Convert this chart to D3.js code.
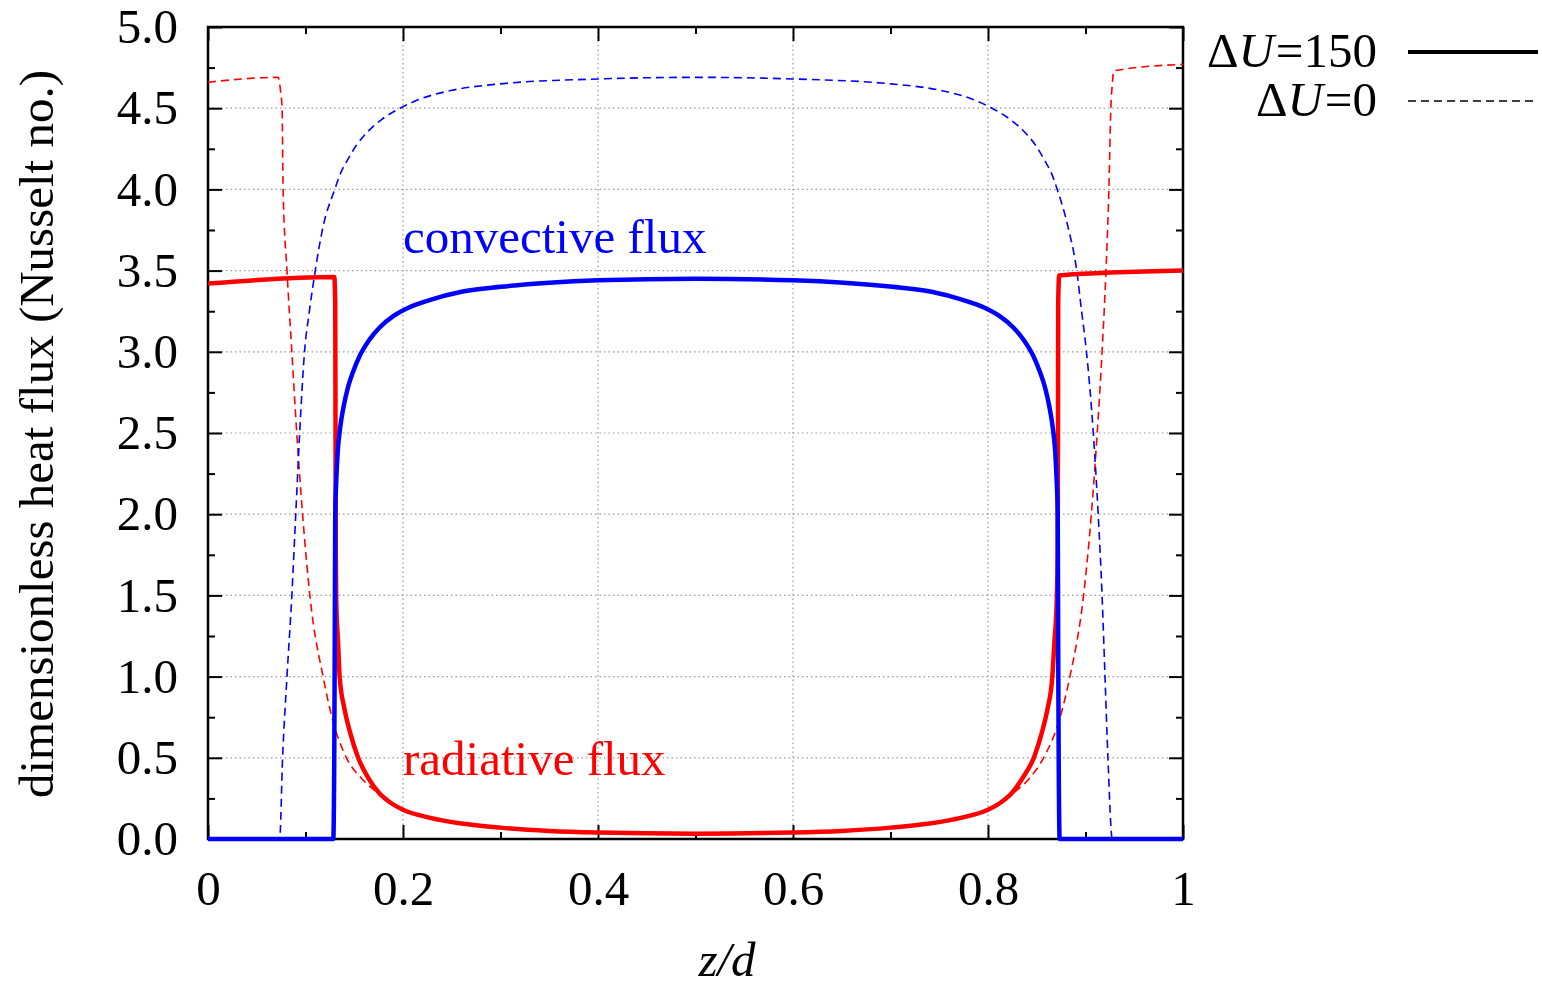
<!DOCTYPE html>
<html>
<head>
<meta charset="utf-8">
<script src="https://cdn.jsdelivr.net/npm/d3@7"></script>
<style>
  body { margin: 0; background: #fff; }
  svg text { font-family: "Liberation Serif", "Times New Roman", serif; }
  .grid line { stroke: #999; stroke-width: 1.2; stroke-dasharray: 1.5,3; }
  .axis path { display: none; }
  .axis line { stroke: #000; stroke-width: 2; }
  .axis text { font-size: 49px; fill: #000; font-family: "Liberation Serif", "Times New Roman", serif; }
</style>
</head>
<body>
<div id="chart"></div>
<script>
// data: [z/d, heat flux]
const convSolid = [[0,0],[0.1285,0],[0.1295,0.5],[0.1300,1.2],[0.1305,2.0],[0.1315,2.2],[0.133,2.38],[0.1355,2.53],[0.139,2.66],[0.1435,2.78],[0.149,2.88],[0.156,2.98],[0.165,3.07],[0.176,3.15],[0.19,3.22],[0.205,3.27],[0.228,3.32],[0.26,3.37],[0.3,3.40],[0.35,3.425],[0.4,3.44],[0.5,3.45],[0.6,3.44],[0.652,3.425],[0.702,3.40],[0.742,3.37],[0.774,3.32],[0.797,3.27],[0.812,3.22],[0.826,3.15],[0.837,3.07],[0.846,2.98],[0.853,2.88],[0.8585,2.78],[0.863,2.66],[0.8665,2.53],[0.869,2.38],[0.8705,2.2],[0.8715,2.0],[0.872,1.2],[0.8725,0.5],[0.8735,0],[1,0]];
const radSolid = [[0,3.42],[0.1295,3.46],[0.1305,3.3],[0.1308,2.5],[0.131,1.8],[0.1315,1.47],[0.1335,1.2],[0.135,1.0],[0.140,0.8],[0.146,0.65],[0.154,0.5],[0.164,0.38],[0.176,0.28],[0.188,0.22],[0.2,0.18],[0.228,0.13],[0.26,0.095],[0.3,0.07],[0.35,0.05],[0.4,0.04],[0.5,0.033],[0.6,0.04],[0.65,0.05],[0.7,0.07],[0.74,0.095],[0.772,0.13],[0.8,0.18],[0.812,0.22],[0.824,0.28],[0.836,0.38],[0.847,0.5],[0.855,0.65],[0.861,0.8],[0.866,1.0],[0.868,1.2],[0.8705,1.47],[0.8715,1.8],[0.8718,2.5],[0.872,3.3],[0.873,3.47],[1,3.50]];
const convDashed = [[0,0],[0.0735,0],[0.0765,0.5],[0.081,1.0],[0.086,1.5],[0.090,2.0],[0.094,2.5],[0.099,3.0],[0.104,3.25],[0.110,3.5],[0.118,3.77],[0.130,4.0],[0.136,4.1],[0.143,4.18],[0.152,4.27],[0.163,4.35],[0.178,4.43],[0.197,4.5],[0.217,4.555],[0.25,4.61],[0.3,4.65],[0.4,4.68],[0.5,4.69],[0.6,4.68],[0.70,4.65],[0.751,4.61],[0.784,4.555],[0.804,4.5],[0.823,4.43],[0.838,4.35],[0.849,4.27],[0.858,4.18],[0.865,4.1],[0.871,4.0],[0.882,3.77],[0.891,3.5],[0.896,3.25],[0.901,3.0],[0.908,2.5],[0.913,2.0],[0.917,1.5],[0.920,1.0],[0.923,0.5],[0.9275,0],[1,0]];
const radDashed = [[0,4.66],[0.072,4.69],[0.0745,4.6],[0.076,4.5],[0.077,4.0],[0.081,3.5],[0.086,3.0],[0.091,2.5],[0.097,2.0],[0.105,1.47],[0.118,1.0],[0.128,0.73],[0.142,0.5],[0.158,0.37],[0.175,0.28],[0.2,0.18],[0.25,0.1],[0.3,0.068],[0.4,0.04],[0.5,0.032],[0.6,0.04],[0.7,0.068],[0.75,0.1],[0.8,0.18],[0.825,0.28],[0.842,0.37],[0.857,0.5],[0.874,0.75],[0.884,1.0],[0.898,1.5],[0.906,2.0],[0.912,2.5],[0.917,3.0],[0.921,3.5],[0.924,4.0],[0.926,4.5],[0.9275,4.65],[0.929,4.73],[1,4.77]];

const xMajor = [0, 0.2, 0.4, 0.6, 0.8, 1];
const xLabels = ["0", "0.2", "0.4", "0.6", "0.8", "1"];
const xMinor = [0.1, 0.3, 0.5, 0.7, 0.9];
const yMajor = [0, 0.5, 1, 1.5, 2, 2.5, 3, 3.5, 4, 4.5, 5];
const yMinor = [0.25, 0.75, 1.25, 1.75, 2.25, 2.75, 3.25, 3.75, 4.25, 4.75];

const margin = { top: 27, left: 208 };
const width = 975, height = 812;

const svg = d3.select("#chart").append("svg")
  .attr("width", 1542).attr("height", 989);
const g = svg.append("g").attr("transform", `translate(${margin.left},${margin.top})`);

const x = d3.scaleLinear().domain([0, 1]).range([0, width]);
const y = d3.scaleLinear().domain([0, 5]).range([height, 0]);

// grid
const grid = g.append("g").attr("class", "grid");
grid.selectAll(".gx").data(xMajor.slice(1, -1)).enter().append("line")
  .attr("x1", d => x(d)).attr("x2", d => x(d)).attr("y1", 0).attr("y2", height);
grid.selectAll(".gy").data(yMajor.slice(1, -1)).enter().append("line")
  .attr("x1", 0).attr("x2", width).attr("y1", d => y(d)).attr("y2", d => y(d));

// axes, ticks pointing inward on all sides
const fmtX = d => xLabels[xMajor.indexOf(d)];
g.append("g").attr("class", "axis").attr("transform", `translate(0,${height})`)
  .call(d3.axisBottom(x).tickValues(xMajor).tickSize(-14).tickPadding(31).tickFormat(fmtX));
g.append("g").attr("class", "axis").attr("transform", `translate(0,${height})`)
  .call(d3.axisBottom(x).tickValues(xMinor).tickSize(-7).tickFormat(""));
g.append("g").attr("class", "axis")
  .call(d3.axisTop(x).tickValues(xMajor).tickSize(-14).tickFormat(""));
g.append("g").attr("class", "axis")
  .call(d3.axisTop(x).tickValues(xMinor).tickSize(-7).tickFormat(""));
g.append("g").attr("class", "axis")
  .call(d3.axisLeft(y).tickValues(yMajor).tickSize(-14).tickPadding(30).tickFormat(d3.format(".1f")));
g.append("g").attr("class", "axis")
  .call(d3.axisLeft(y).tickValues(yMinor).tickSize(-7).tickFormat(""));
g.append("g").attr("class", "axis").attr("transform", `translate(${width},0)`)
  .call(d3.axisRight(y).tickValues(yMajor).tickSize(-14).tickFormat(""));
g.append("g").attr("class", "axis").attr("transform", `translate(${width},0)`)
  .call(d3.axisRight(y).tickValues(yMinor).tickSize(-7).tickFormat(""));

g.append("rect")
  .attr("width", width).attr("height", height)
  .attr("fill", "none").attr("stroke", "#000").attr("stroke-width", 2.5);

// curves
const line = d3.line()
  .x(d => x(d[0]))
  .y(d => y(d[1]))
  .curve(d3.curveMonotoneX);

const series = [
  { data: radDashed, color: "#ff0000", w: 1.6, dash: "8,5" },
  { data: convDashed, color: "#0000ff", w: 1.6, dash: "8,5" },
  { data: radSolid, color: "#ff0000", w: 4.5, dash: null },
  { data: convSolid, color: "#0000ff", w: 4.5, dash: null }
];
g.selectAll(".curve").data(series).enter().append("path")
  .attr("class", "curve")
  .attr("d", d => line(d.data))
  .attr("fill", "none")
  .attr("stroke", d => d.color)
  .attr("stroke-width", d => d.w)
  .attr("stroke-dasharray", d => d.dash)
  .attr("stroke-linejoin", "round");

// curve labels
g.append("text").attr("x", 195).attr("y", 226)
  .attr("fill", "#0000ff").style("font-size", "49px").text("convective flux");
g.append("text").attr("x", 195).attr("y", 748)
  .attr("fill", "#ff0000").style("font-size", "49px").text("radiative flux");

// axis titles
svg.append("text")
  .attr("transform", "translate(53,434) rotate(-90)")
  .attr("text-anchor", "middle")
  .style("font-size", "49px")
  .text("dimensionless heat flux (Nusselt no.)");

const xt = svg.append("text")
  .attr("x", 727).attr("y", 976)
  .attr("text-anchor", "middle")
  .style("font-size", "49px")
  .text("z/d")
  .style("font-style", "italic");

// legend
const legend = [
  { label: "150", dash: null, w: 4, ty: 67, ly: 52 },
  { label: "0", dash: "8,5", w: 1.5, ty: 116, ly: 101 }
];
legend.forEach(d => {
  const t = svg.append("text")
    .attr("x", 1377).attr("y", d.ty)
    .attr("text-anchor", "end")
    .style("font-size", "49px");
  t.append("tspan").text("\u0394");
  t.append("tspan").style("font-style", "italic").text("U");
  t.append("tspan").attr("dx", 2).text("=" + d.label);
  svg.append("line")
    .attr("x1", 1408).attr("x2", 1538).attr("y1", d.ly).attr("y2", d.ly)
    .attr("stroke", "#000").attr("stroke-width", d.w)
    .attr("stroke-dasharray", d.dash);
});
</script>
</body>
</html>
